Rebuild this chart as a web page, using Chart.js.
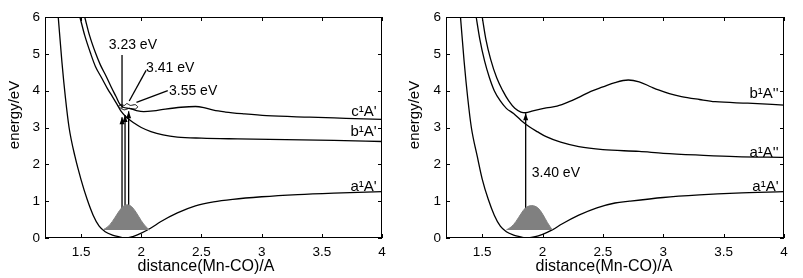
<!DOCTYPE html>
<html>
<head>
<meta charset="utf-8">
<script src="https://cdn.jsdelivr.net/npm/chart.js@4.4.0/dist/chart.umd.min.js"></script>
<style>
  body { margin: 0; background: #fff; }
  #wrap { position: relative; width: 803px; height: 278px; }
  #left { position: absolute; left: 0; top: 0; }
  #right { position: absolute; left: 400px; top: 0; }
</style>
</head>
<body>
<div id="wrap">
  <canvas id="left" width="400" height="278"></canvas>
  <canvas id="right" width="403" height="278"></canvas>
</div>
<script>
// ---- axis ticks ----
var xTicks = [1.5, 2, 2.5, 3, 3.5, 4];
var yTicks = [0, 1, 2, 3, 4, 5, 6];
var xTitle = 'distance(Mn-CO)/A';
var yTitle = 'energy/eV';

// ---- left panel: curves (x = distance, y = energy) ----
var leftA1x = [1.31, 1.34, 1.37, 1.40, 1.45, 1.50, 1.55, 1.60, 1.65, 1.70, 1.76, 1.82, 1.87, 1.93, 2.00, 2.08, 2.16, 2.30, 2.45, 2.60, 2.76, 3.00, 3.30, 3.60, 4.00];
var leftA1y = [6.0, 4.8, 3.8, 3.0, 2.2, 1.58, 1.05, 0.62, 0.32, 0.17, 0.08, 0.03, 0.0, 0.04, 0.13, 0.27, 0.44, 0.68, 0.87, 0.98, 1.05, 1.12, 1.18, 1.22, 1.26];

var leftB1x = [1.49, 1.53, 1.58, 1.62, 1.67, 1.72, 1.76, 1.80, 1.83, 1.87, 1.94, 2.00, 2.08, 2.18, 2.30, 2.50, 2.80, 3.20, 3.60, 4.00];
var leftB1y = [6.0, 5.5, 5.0, 4.65, 4.35, 4.05, 3.84, 3.62, 3.45, 3.30, 3.12, 3.00, 2.89, 2.80, 2.74, 2.71, 2.69, 2.67, 2.65, 2.62];

var leftC1x = [1.53, 1.57, 1.62, 1.66, 1.71, 1.75, 1.79, 1.82, 1.85, 1.90, 1.96, 2.02, 2.10, 2.20, 2.33, 2.45, 2.52, 2.60, 2.70, 2.85, 3.04, 3.40, 3.70, 4.00];
var leftC1y = [6.0, 5.5, 5.02, 4.7, 4.38, 4.1, 3.84, 3.64, 3.55, 3.52, 3.46, 3.43, 3.45, 3.50, 3.55, 3.57, 3.54, 3.47, 3.42, 3.37, 3.32, 3.28, 3.25, 3.22];

// small outline where the arrows meet the upper states
var leftLoopX = [1.81, 1.83, 1.86, 1.88, 1.91, 1.95, 1.97, 1.95, 1.90, 1.86, 1.83, 1.81];
var leftLoopY = [3.58, 3.62, 3.60, 3.65, 3.60, 3.62, 3.56, 3.50, 3.52, 3.48, 3.52, 3.58];

// wave packet on the ground state
var leftWaveX = [1.68, 1.72, 1.76, 1.80, 1.84, 1.88, 1.92, 1.96, 2.00, 2.04, 2.07];
var leftWaveY = [0.22, 0.30, 0.45, 0.65, 0.83, 0.90, 0.85, 0.68, 0.47, 0.30, 0.22];

// excitation arrows: x, start, end
var leftArrowX = [1.84, 1.865, 1.895];
var leftArrowFrom = [0.28, 0.28, 0.28];
var leftArrowTo = [3.28, 3.34, 3.44];

// leader lines for the energy labels
var leftLeadX = [[1.84, 1.84], [1.90, 2.04], [1.96, 2.22]];
var leftLeadY = [[3.52, 4.97], [3.72, 4.55], [3.68, 4.0]];
var leftNotes = ['3.23 eV', '3.41 eV', '3.55 eV'];
var leftNoteX = [1.93, 2.04, 2.23];
var leftNoteY = [5.24, 4.6, 4.0];
var leftNoteAlign = ['center', 'left', 'left'];

var leftStates = ["c\u00b9A'", "b\u00b9A'", "a\u00b9A'"];
var leftStateY = [3.42, 2.88, 1.38];

// ---- right panel ----
var rightA1x = [1.32, 1.35, 1.38, 1.41, 1.46, 1.50, 1.55, 1.60, 1.65, 1.70, 1.76, 1.82, 1.87, 1.93, 2.00, 2.08, 2.16, 2.30, 2.45, 2.60, 2.72, 3.00, 3.30, 3.60, 4.00];
var rightA1y = [6.0, 4.8, 3.8, 3.0, 2.2, 1.6, 1.05, 0.62, 0.32, 0.17, 0.08, 0.03, 0.0, 0.03, 0.1, 0.22, 0.38, 0.62, 0.82, 0.95, 1.0, 1.1, 1.17, 1.22, 1.26];

var rightA2x = [1.45, 1.48, 1.52, 1.56, 1.60, 1.65, 1.70, 1.76, 1.82, 1.89, 1.96, 2.03, 2.15, 2.30, 2.50, 2.80, 3.00, 3.30, 3.60, 4.00];
var rightA2y = [6.0, 5.4, 4.8, 4.35, 4.0, 3.72, 3.52, 3.38, 3.20, 3.02, 2.88, 2.75, 2.60, 2.48, 2.40, 2.35, 2.30, 2.25, 2.21, 2.19];

var rightB2x = [1.50, 1.53, 1.57, 1.62, 1.67, 1.72, 1.77, 1.82, 1.86, 1.92, 2.03, 2.12, 2.22, 2.30, 2.40, 2.50, 2.60, 2.71, 2.80, 2.90, 2.96, 3.05, 3.15, 3.30, 3.43, 3.70, 4.00];
var rightB2y = [6.0, 5.4, 4.85, 4.35, 4.0, 3.72, 3.52, 3.42, 3.40, 3.45, 3.53, 3.58, 3.70, 3.82, 3.98, 4.10, 4.22, 4.29, 4.24, 4.10, 4.02, 3.92, 3.84, 3.76, 3.70, 3.66, 3.61];

var rightWaveX = [1.70, 1.74, 1.78, 1.82, 1.86, 1.91, 1.96, 2.00, 2.04, 2.08];
var rightWaveY = [0.22, 0.30, 0.45, 0.65, 0.82, 0.88, 0.82, 0.65, 0.42, 0.22];

var rightArrowX = [1.86];
var rightArrowFrom = [0.27];
var rightArrowTo = [3.39];

var rightNotes = ['3.40 eV'];
var rightNoteX = [1.91];
var rightNoteY = [1.76];
var rightNoteAlign = ['left'];

var rightStates = ["b\u00b9A''", "a\u00b9A''", "a\u00b9A'"];
var rightStateY = [3.9, 2.3, 1.39];

var stateLabelX = 3.955;

function pts(xs, ys) {
  return xs.map(function (v, i) { return { x: v, y: ys[i] }; });
}

function curve(xs, ys) {
  return {
    data: pts(xs, ys), showLine: true, borderColor: '#000', borderWidth: 1.3,
    pointRadius: 0, cubicInterpolationMode: 'monotone', fill: false
  };
}

function wave(xs, ys) {
  return {
    data: pts(xs, ys), showLine: true, borderColor: '#808080', borderWidth: 1,
    backgroundColor: '#808080', pointRadius: 0, tension: 0.35,
    fill: { value: ys[0] }
  };
}

function seg(x0, y0, x1, y1, isArrow) {
  return {
    data: [{ x: x0, y: y0 }, { x: x1, y: y1 }], showLine: true,
    borderColor: '#000', borderWidth: 1.3, pointRadius: 0, fill: false, arrow: isArrow
  };
}

// frame, inward ticks, arrowheads, axis titles and text
var extras = {
  id: 'extras',
  afterDatasetsDraw: function (chart, args, opts) {
    var ctx = chart.ctx, a = chart.chartArea;
    var x = chart.scales.x, y = chart.scales.y;
    ctx.save();
    ctx.strokeStyle = '#000';
    ctx.lineWidth = 1;
    ctx.strokeRect(Math.round(a.left) + 0.5, Math.round(a.top) + 0.5,
      Math.round(a.width) - 1, Math.round(a.height) - 1);
    ctx.beginPath();
    xTicks.forEach(function (v) {
      var px = Math.round(x.getPixelForValue(v)) + 0.5;
      ctx.moveTo(px, a.bottom); ctx.lineTo(px, a.bottom - 4);
      ctx.moveTo(px, a.top); ctx.lineTo(px, a.top + 4);
    });
    yTicks.forEach(function (v) {
      var py = Math.round(y.getPixelForValue(v)) + 0.5;
      ctx.moveTo(a.left, py); ctx.lineTo(a.left + 4, py);
      ctx.moveTo(a.right, py); ctx.lineTo(a.right - 4, py);
    });
    ctx.stroke();

    ctx.fillStyle = '#000';
    chart.data.datasets.forEach(function (ds) {
      if (!ds.arrow) return;
      var p = ds.data[1];
      var px = x.getPixelForValue(p.x), py = y.getPixelForValue(p.y);
      ctx.beginPath();
      ctx.moveTo(px, py);
      ctx.lineTo(px - 2.5, py + 7);
      ctx.lineTo(px + 2.5, py + 7);
      ctx.closePath();
      ctx.fill();
    });

    ctx.textBaseline = 'middle';
    ctx.font = '14px "Liberation Sans", Arial, sans-serif';
    opts.notes.forEach(function (t, i) {
      ctx.textAlign = opts.noteAlign[i];
      ctx.fillText(t, x.getPixelForValue(opts.noteX[i]), y.getPixelForValue(opts.noteY[i]));
    });
    ctx.font = '15px "Liberation Sans", Arial, sans-serif';
    ctx.textAlign = 'right';
    opts.states.forEach(function (t, i) {
      ctx.fillText(t, x.getPixelForValue(stateLabelX), y.getPixelForValue(opts.stateY[i]));
    });

    // axis titles
    ctx.textAlign = 'center';
    ctx.font = '16px "Liberation Sans", Arial, sans-serif';
    ctx.fillText(xTitle, opts.xTitleX, 267);
    ctx.translate(15, 115);
    ctx.rotate(-Math.PI / 2);
    ctx.font = '15px "Liberation Sans", Arial, sans-serif';
    ctx.fillText(yTitle, 0, 0);
    ctx.restore();
  }
};

function makeChart(id, datasets, notes, rightPad, yWidth) {
  return new Chart(document.getElementById(id), {
    type: 'scatter',
    data: { datasets: datasets },
    plugins: [extras],
    options: {
      responsive: false,
      animation: false,
      layout: { padding: { left: 0, top: 17, right: rightPad, bottom: 0 } },
      plugins: {
        legend: { display: false },
        tooltip: { enabled: false },
        extras: notes
      },
      scales: {
        x: {
          type: 'linear', min: 1.2, max: 4,
          grid: { display: false, drawTicks: false },
          border: { display: false },
          afterBuildTicks: function (s) { s.ticks = xTicks.map(function (v) { return { value: v }; }); },
          afterFit: function (s) { s.height = 40; },
          ticks: { padding: 6, color: '#000', font: { family: 'Liberation Sans', size: 13.5 },
            callback: function (v) { return String(v); } }
        },
        y: {
          type: 'linear', min: 0, max: 6,
          grid: { display: false, drawTicks: false },
          border: { display: false },
          afterBuildTicks: function (s) { s.ticks = yTicks.map(function (v) { return { value: v }; }); },
          afterFit: function (s) { s.width = yWidth; },
          ticks: { padding: 5, color: '#000', font: { family: 'Liberation Sans', size: 13.5 } }
        }
      }
    }
  });
}

// left panel datasets
var leftSets = [
  wave(leftWaveX, leftWaveY),
  curve(leftA1x, leftA1y),
  curve(leftB1x, leftB1y),
  curve(leftC1x, leftC1y),
  { data: pts(leftLoopX, leftLoopY), showLine: true, borderColor: '#000', borderWidth: 1,
    backgroundColor: '#fff', pointRadius: 0, fill: true, tension: 0.2 }
];
leftArrowX.forEach(function (v, i) { leftSets.push(seg(v, leftArrowFrom[i], v, leftArrowTo[i], true)); });
leftLeadX.forEach(function (lx, i) { leftSets.push(seg(lx[0], leftLeadY[i][0], lx[1], leftLeadY[i][1], false)); });

makeChart('left', leftSets, {
  notes: leftNotes, noteX: leftNoteX, noteY: leftNoteY, noteAlign: leftNoteAlign,
  states: leftStates, stateY: leftStateY, xTitleX: 206
}, 18, 45);

// right panel datasets
var rightSets = [
  wave(rightWaveX, rightWaveY),
  curve(rightA1x, rightA1y),
  curve(rightA2x, rightA2y),
  curve(rightB2x, rightB2y)
];
rightArrowX.forEach(function (v, i) { rightSets.push(seg(v, rightArrowFrom[i], v, rightArrowTo[i], true)); });

makeChart('right', rightSets, {
  notes: rightNotes, noteX: rightNoteX, noteY: rightNoteY, noteAlign: rightNoteAlign,
  states: rightStates, stateY: rightStateY, xTitleX: 204
}, 19, 46);
</script>
</body>
</html>
